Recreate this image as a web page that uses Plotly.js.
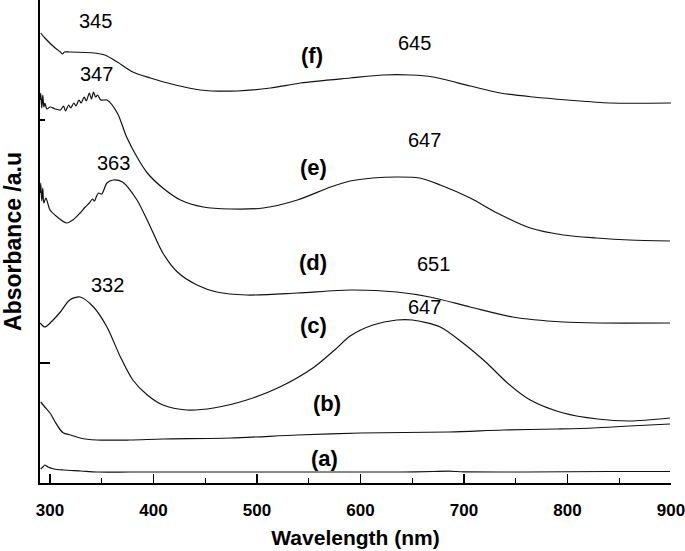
<!DOCTYPE html>
<html>
<head>
<meta charset="utf-8">
<script src="https://cdn.plot.ly/plotly-3.0.1.min.js"></script>
<style>html,body{margin:0;padding:0;background:#fff;}#chart{width:685px;height:551px;}</style>
</head>
<body>
<div id="chart"></div>
<script>
// Wavelength (nm) and absorbance (a.u., offset traces)
const wlA  = [291, 293, 295, 298, 304, 313, 330, 345, 377, 420, 450, 520, 600, 640, 670, 685, 700, 760, 840, 899];
const absA = [0.14, 0.16, 0.18, 0.16, 0.14, 0.13, 0.12, 0.11, 0.11, 0.11, 0.11, 0.11, 0.11, 0.11, 0.115, 0.118, 0.112, 0.11, 0.115, 0.115];

const wlB  = [291, 295, 300, 305, 310, 313, 320, 329, 345, 377, 409, 474, 539, 600, 686, 738, 790, 825, 860, 899];
const absB = [0.81, 0.76, 0.70, 0.61, 0.53, 0.50, 0.48, 0.45, 0.43, 0.43, 0.44, 0.45, 0.48, 0.50, 0.51, 0.53, 0.54, 0.55, 0.57, 0.59];

const wlC  = [290.5, 295, 302, 310, 319, 329, 342, 355, 368, 380, 394, 409, 432, 458, 490, 522, 554, 575, 590, 612, 635, 650, 677, 699, 722, 742, 764, 796, 829, 860, 899];
const absC = [1.60, 1.56, 1.62, 1.71, 1.83, 1.86, 1.76, 1.56, 1.26, 1.03, 0.88, 0.78, 0.73, 0.75, 0.83, 0.96, 1.15, 1.33, 1.47, 1.58, 1.63, 1.63, 1.56, 1.40, 1.20, 1.00, 0.83, 0.70, 0.64, 0.62, 0.65];

const wlD  = [290.5, 291, 292, 293, 294, 296, 300, 307, 316, 322, 329, 334, 338, 341, 343, 345, 347, 350, 355, 361, 370, 384, 397, 409, 423, 442, 461, 490, 539, 590, 635, 667, 706, 747, 796, 829, 899];
const absD = [2.90, 3.00, 2.82, 2.95, 2.80, 2.85, 2.73, 2.66, 2.60, 2.63, 2.70, 2.76, 2.80, 2.84, 2.82, 2.87, 2.90, 2.89, 3.00, 3.03, 3.01, 2.83, 2.56, 2.30, 2.11, 1.98, 1.91, 1.88, 1.90, 1.93, 1.91, 1.86, 1.76, 1.66, 1.61, 1.60, 1.60];

const wlE  = [290.5, 291, 292, 293, 294, 295, 297, 300, 305, 310, 313, 315, 318, 320, 323, 325, 328, 330, 333, 335, 338, 340, 342, 344, 346, 349, 355, 365, 374, 384, 394, 409, 426, 448, 474, 506, 539, 571, 590, 612, 635, 657, 677, 706, 732, 764, 796, 828, 860, 899];
const absE = [3.83, 3.90, 3.75, 3.88, 3.76, 3.80, 3.74, 3.76, 3.74, 3.73, 3.77, 3.72, 3.78, 3.75, 3.80, 3.77, 3.83, 3.80, 3.86, 3.82, 3.90, 3.84, 3.91, 3.86, 3.88, 3.83, 3.83, 3.70, 3.46, 3.26, 3.10, 2.95, 2.83, 2.76, 2.74, 2.75, 2.83, 2.96, 3.02, 3.05, 3.06, 3.05, 2.98, 2.85, 2.70, 2.55, 2.48, 2.45, 2.43, 2.42];

const wlF  = [291, 295, 305, 310, 312, 314, 319, 343, 353, 365, 380, 397, 421, 445, 481, 513, 542, 590, 622, 648, 670, 706, 735, 767, 800, 841, 900];
const absF = [4.50, 4.45, 4.35, 4.31, 4.29, 4.31, 4.31, 4.30, 4.28, 4.21, 4.11, 4.05, 3.98, 3.93, 3.92, 3.95, 4.00, 4.05, 4.08, 4.08, 4.06, 3.97, 3.90, 3.86, 3.83, 3.80, 3.80];

const curveLabels = ["(a)", "(b)", "(c)", "(d)", "(e)", "(f)"];
const peakLabels = ["345", "347", "363", "332", "645", "647", "651", "647"];

const FONT = "Arial, 'Liberation Sans', sans-serif";
const series = [[wlA, absA], [wlB, absB], [wlC, absC], [wlD, absD], [wlE, absE], [wlF, absF]];
const traces = series.map((s, i) => ({
  x: s[0], y: s[1], type: "scatter", mode: "lines", name: curveLabels[i],
  line: {color: "#111", width: 1.2, shape: "spline", smoothing: 0.8}, hoverinfo: "skip"
}));

// label placements (layout only)
const curveLabelPos = [[565, 0.245], [568, 0.795], [555, 1.575], [554, 2.205], [555, 3.155], [553, 4.28]];
const peakLabelPos = [[343.5, 4.625], [345, 4.095], [361, 3.205], [355.6, 1.985], [651.7, 4.405], [661.4, 3.43], [670.5, 2.195], [661.4, 1.765]];

const annotations = [];
curveLabels.forEach((t, i) => annotations.push({
  x: curveLabelPos[i][0], y: curveLabelPos[i][1], xref: "x", yref: "y", text: "<b>" + t + "</b>",
  showarrow: false, font: {family: FONT, size: 22, color: "#000"}
}));
peakLabels.forEach((t, i) => annotations.push({
  x: peakLabelPos[i][0], y: peakLabelPos[i][1], xref: "x", yref: "y", text: t,
  showarrow: false, font: {family: FONT, size: 20, color: "#000"}
}));

const layout = {
  width: 685, height: 551,
  margin: {l: 40, r: 14, t: 0, b: 68},
  paper_bgcolor: "#fff", plot_bgcolor: "#fff",
  showlegend: false,
  font: {family: FONT, color: "#000"},
  xaxis: {
    range: [290.3, 900], showgrid: false, zeroline: false,
    showline: true, linecolor: "#000", linewidth: 2,
    ticks: "inside", ticklen: 9, tickwidth: 1.6, tickcolor: "#000",
    dtick: 100, tick0: 0,
    minor: {dtick: 50, ticks: "inside", ticklen: 5, tickwidth: 1.4, tickcolor: "#000"},
    tickfont: {family: FONT, size: 17, color: "#000", weight: "bold"},
    ticklabeloverflow: "allow",
    ticklabelstandoff: 11,
    title: {text: "<b>Wavelength (nm)</b>", font: {family: FONT, size: 21, color: "#000"}, standoff: 11}
  },
  yaxis: {
    range: [0, 4.83], showgrid: false, zeroline: false,
    showline: true, linecolor: "#000", linewidth: 2,
    tickmode: "array", tickvals: [1.20], ticktext: [""],
    ticks: "inside", ticklen: 10, tickwidth: 1.4, tickcolor: "#000",
    minor: {tickmode: "array", tickvals: [3.63], ticks: "inside", ticklen: 5, tickwidth: 1.4, tickcolor: "#000"},
    showticklabels: false,
    title: {text: "<b>Absorbance /a.u</b>", font: {family: FONT, size: 23, color: "#000"}, standoff: 10}
  },
  annotations: annotations
};

Plotly.newPlot("chart", traces, layout, {displayModeBar: false, staticPlot: true});
</script>
</body>
</html>
